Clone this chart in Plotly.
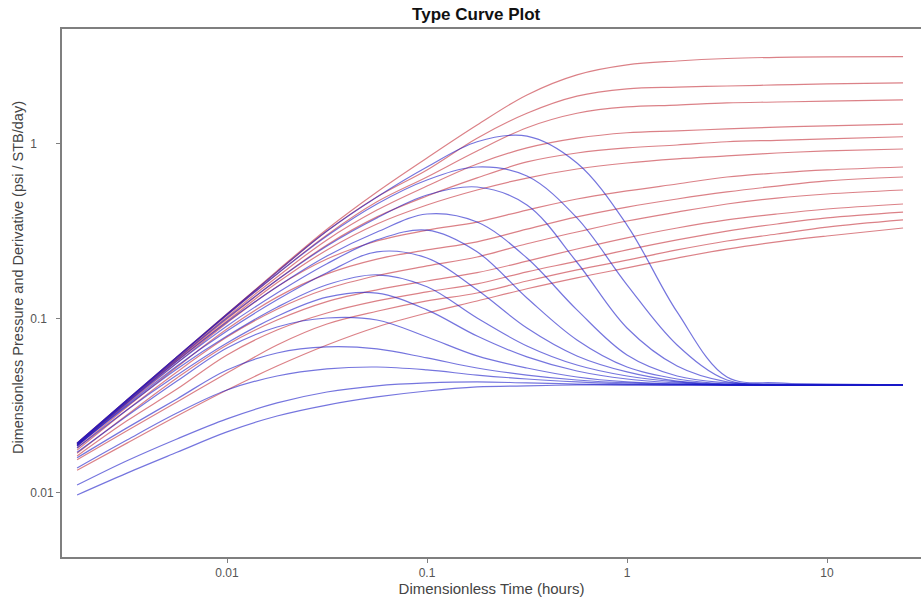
import plotly.graph_objects as go

# Dimensionless time grid (hours)
time_d = [0.00178, 0.00316, 0.00562, 0.01, 0.0178, 0.0316, 0.0562, 0.1, 0.178,
          0.316, 0.562, 1.0, 1.78, 3.16, 5.62, 10.0, 24.0]

# Dimensionless pressure curves (red)
p01 = [0.0193, 0.0341, 0.0602, 0.106, 0.1875, 0.325, 0.531, 0.832, 1.285, 1.91, 2.49, 2.84, 2.99, 3.09, 3.14, 3.16, 3.17]
p02 = [0.0193, 0.0341, 0.0602, 0.106, 0.185, 0.317, 0.497, 0.710, 1.08, 1.50, 1.88, 2.07, 2.12, 2.15, 2.18, 2.21, 2.24]
p03 = [0.0190, 0.0337, 0.0594, 0.1047, 0.180, 0.301, 0.466, 0.647, 0.912, 1.24, 1.50, 1.63, 1.67, 1.72, 1.74, 1.76, 1.79]
p04 = [0.0190, 0.0337, 0.0586, 0.102, 0.173, 0.282, 0.418, 0.574, 0.768, 0.949, 1.08, 1.16, 1.19, 1.22, 1.25, 1.27, 1.30]
p05 = [0.0188, 0.0332, 0.0578, 0.0993, 0.166, 0.264, 0.382, 0.503, 0.639, 0.789, 0.888, 0.949, 0.987, 1.03, 1.05, 1.07, 1.10]
p06 = [0.0188, 0.0328, 0.0570, 0.0967, 0.160, 0.247, 0.348, 0.447, 0.545, 0.638, 0.719, 0.778, 0.821, 0.854, 0.888, 0.912, 0.936]
p07 = [0.0186, 0.0323, 0.0555, 0.0943, 0.152, 0.219, 0.278, 0.321, 0.357, 0.418, 0.484, 0.538, 0.590, 0.647, 0.682, 0.710, 0.738]
p08 = [0.0181, 0.0311, 0.0527, 0.0870, 0.1325, 0.180, 0.219, 0.247, 0.275, 0.325, 0.382, 0.435, 0.484, 0.531, 0.574, 0.614, 0.647]
p09 = [0.0176, 0.0299, 0.0494, 0.0783, 0.113, 0.148, 0.176, 0.200, 0.225, 0.268, 0.313, 0.362, 0.407, 0.453, 0.490, 0.517, 0.545]
p10 = [0.0169, 0.0280, 0.0456, 0.0705, 0.0980, 0.125, 0.146, 0.164, 0.183, 0.213, 0.250, 0.290, 0.330, 0.367, 0.397, 0.424, 0.453]
p11 = [0.0163, 0.0259, 0.0394, 0.0618, 0.0859, 0.1075, 0.126, 0.142, 0.158, 0.185, 0.213, 0.247, 0.282, 0.317, 0.348, 0.377, 0.407]
p12 = [0.0155, 0.0227, 0.0332, 0.0487, 0.0705, 0.0930, 0.110, 0.126, 0.140, 0.164, 0.190, 0.216, 0.247, 0.278, 0.305, 0.334, 0.367]
p13 = [0.0135, 0.0193, 0.0276, 0.0389, 0.0534, 0.0705, 0.0894, 0.1075, 0.126, 0.148, 0.171, 0.195, 0.222, 0.250, 0.275, 0.297, 0.330]

# Dimensionless pressure derivative curves (blue)
d01 = [0.0193, 0.0341, 0.0602, 0.106, 0.185, 0.317, 0.497, 0.738, 1.03, 1.11, 0.778, 0.343, 0.109, 0.0462, 0.0427, 0.0421, 0.0416]
d02 = [0.0193, 0.0341, 0.0602, 0.1047, 0.180, 0.297, 0.453, 0.622, 0.738, 0.655, 0.377, 0.156, 0.0705, 0.0444, 0.0421, 0.0416, 0.0416]
d03 = [0.0190, 0.0337, 0.0586, 0.1006, 0.166, 0.2605, 0.377, 0.510, 0.567, 0.447, 0.210, 0.0882, 0.0534, 0.0433, 0.0416, 0.0416, 0.0416]
d04 = [0.0190, 0.0332, 0.0570, 0.0955, 0.152, 0.228, 0.313, 0.397, 0.357, 0.222, 0.112, 0.0618, 0.0468, 0.0427, 0.0416, 0.0416, 0.0416]
d05 = [0.0188, 0.0328, 0.0555, 0.0906, 0.140, 0.206, 0.282, 0.321, 0.241, 0.131, 0.0753, 0.0527, 0.0450, 0.0421, 0.0416, 0.0416, 0.0416]
d06 = [0.0186, 0.0319, 0.0534, 0.0848, 0.128, 0.183, 0.241, 0.222, 0.146, 0.0882, 0.0610, 0.0494, 0.0438, 0.0421, 0.0416, 0.0416, 0.0416]
d07 = [0.0186, 0.0315, 0.0514, 0.0793, 0.116, 0.156, 0.178, 0.152, 0.1006, 0.0696, 0.0541, 0.0468, 0.0433, 0.0416, 0.0416, 0.0416, 0.0416]
d08 = [0.0181, 0.0299, 0.0474, 0.0724, 0.103, 0.1325, 0.1396, 0.112, 0.0793, 0.0602, 0.0500, 0.0450, 0.0427, 0.0416, 0.0416, 0.0416, 0.0416]
d09 = [0.0171, 0.0276, 0.0438, 0.0678, 0.0894, 0.1006, 0.0980, 0.0783, 0.0610, 0.0520, 0.0462, 0.0433, 0.0421, 0.0416, 0.0416, 0.0416, 0.0416]
d10 = [0.0159, 0.0236, 0.0346, 0.0507, 0.0634, 0.0687, 0.0669, 0.0594, 0.0520, 0.0474, 0.0444, 0.0427, 0.0421, 0.0416, 0.0416, 0.0416, 0.0416]
d11 = [0.0139, 0.0201, 0.0287, 0.0389, 0.0468, 0.0514, 0.0527, 0.0507, 0.0474, 0.0450, 0.0433, 0.0421, 0.0416, 0.0416, 0.0416, 0.0416, 0.0416]
d12 = [0.0111, 0.0153, 0.0204, 0.0266, 0.0328, 0.0379, 0.0411, 0.0427, 0.0433, 0.0427, 0.0421, 0.0416, 0.0416, 0.0416, 0.0416, 0.0416, 0.0416]
d13 = [0.00974, 0.0130, 0.0171, 0.0224, 0.0276, 0.0319, 0.0355, 0.0384, 0.0405, 0.0411, 0.0416, 0.0416, 0.0416, 0.0416, 0.0416, 0.0416, 0.0416]

pressure_curves = [p01, p02, p03, p04, p05, p06, p07, p08, p09, p10, p11, p12, p13]
derivative_curves = [d01, d02, d03, d04, d05, d06, d07, d08, d09, d10, d11, d12, d13]

x_tick_vals = [0.01, 0.1, 1, 10]
x_tick_text = ["0.01", "0.1", "1", "10"]
y_tick_vals = [0.01, 0.1, 1]
y_tick_text = ["0.01", "0.1\u2007", "1\u2007\u2008\u2007"]

RED = "rgba(195,45,55,0.6)"
BLUE = "rgba(25,25,200,0.6)"

fig = go.Figure()
for p in pressure_curves:
    fig.add_trace(go.Scatter(x=time_d, y=p, mode="lines",
                             line=dict(color=RED, width=1.2, shape="spline", smoothing=1.0),
                             showlegend=False, hoverinfo="skip"))
for d in derivative_curves:
    fig.add_trace(go.Scatter(x=time_d, y=d, mode="lines",
                             line=dict(color=BLUE, width=1.2, shape="spline", smoothing=1.0),
                             showlegend=False, hoverinfo="skip"))

FONT = "Liberation Sans, Arial, sans-serif"

fig.update_layout(
    width=921, height=597,
    margin=dict(l=62, r=0, t=29, b=40),
    paper_bgcolor="white", plot_bgcolor="white",
    font=dict(family=FONT, color="#444444", size=12),
    title=dict(text="<b>Type Curve Plot</b>", x=0.517, xref="container", xanchor="center",
               y=1 - 14 / 597, yref="container", yanchor="middle",
               font=dict(family=FONT, size=17, color="#111111")),
    xaxis=dict(type="log", range=[-2.825, 1.47], showgrid=False, zeroline=False,
               showline=True, linecolor="#7f7f7f", linewidth=2, mirror=True,
               ticks="outside", ticklen=4, tickwidth=1, tickcolor="#7f7f7f",
               tickvals=x_tick_vals, ticktext=x_tick_text,
               tickfont=dict(size=12, color="#555555"),
               title=dict(text="Dimensionless Time (hours)", standoff=0,
                          font=dict(size=15, color="#444444"))),
    yaxis=dict(type="log", range=[-2.367, 0.659], showgrid=False, zeroline=False,
               showline=True, linecolor="#7f7f7f", linewidth=2, mirror=False,
               ticks="outside", ticklen=4, tickwidth=1, tickcolor="#7f7f7f",
               tickvals=y_tick_vals, ticktext=y_tick_text,
               tickfont=dict(size=12, color="#555555")),
    annotations=[dict(text="Dimensionless Pressure and Derivative (psi / STB/day)",
                      xref="paper", yref="paper", x=(18 - 62) / 859, y=(557 - 278) / 528,
                      xanchor="center", yanchor="middle", textangle=-90, showarrow=False,
                      font=dict(family=FONT, size=14.5, color="#444444"))],
)

fig.write_html("out.html")
